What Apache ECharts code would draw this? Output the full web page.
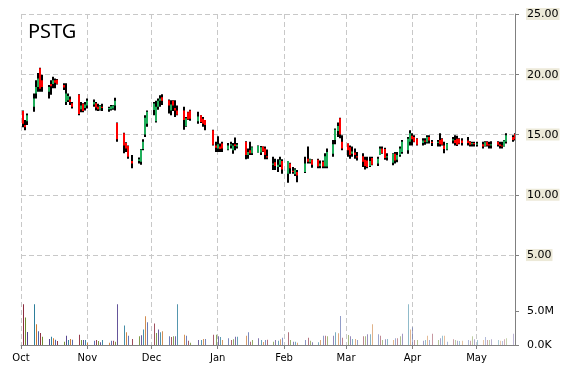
<!DOCTYPE html>
<html><head><meta charset="utf-8">
<script src="https://cdn.jsdelivr.net/npm/echarts@6/dist/echarts.min.js"></script>
<style>html,body{margin:0;padding:0;background:#fff}#c{width:570px;height:370px}</style>
</head><body><div id="c"></div>
<script>
const ticker = 'PSTG';
const monthLabels = ['Oct','Nov','Dec','Jan','Feb','Mar','Apr','May'];
const monthStarts = ['2019-10-01','2019-11-01','2019-12-01','2020-01-01','2020-02-01','2020-03-01','2020-04-01','2020-05-01'];
const priceTicks = [5, 10, 15, 20, 25];
const volumeTicks = [0, 5];   // millions

const dates = [
 '2019-10-02','2019-10-03','2019-10-04',
 '2019-10-07','2019-10-08','2019-10-09','2019-10-10','2019-10-11',
 '2019-10-14','2019-10-15','2019-10-16','2019-10-17','2019-10-18',
 '2019-10-21','2019-10-22','2019-10-23','2019-10-24','2019-10-25',
 '2019-10-28','2019-10-29','2019-10-30','2019-10-31','2019-11-01',
 '2019-11-04','2019-11-05','2019-11-06','2019-11-07','2019-11-08',
 '2019-11-11','2019-11-12','2019-11-13','2019-11-14','2019-11-15',
 '2019-11-18','2019-11-19','2019-11-20','2019-11-22',
 '2019-11-25','2019-11-26','2019-11-27','2019-11-28','2019-11-29',
 '2019-12-02','2019-12-03','2019-12-04','2019-12-05','2019-12-06',
 '2019-12-09','2019-12-10','2019-12-11','2019-12-12','2019-12-13',
 '2019-12-16','2019-12-17','2019-12-18','2019-12-19',
 '2019-12-23','2019-12-24','2019-12-25','2019-12-26',
 '2019-12-30','2019-12-31','2020-01-01','2020-01-02','2020-01-03',
 '2020-01-06','2020-01-07','2020-01-08','2020-01-09','2020-01-10',
 '2020-01-14','2020-01-15','2020-01-16','2020-01-17',
 '2020-01-20','2020-01-21','2020-01-22','2020-01-23','2020-01-24',
 '2020-01-27','2020-01-28','2020-01-29','2020-01-30','2020-01-31',
 '2020-02-03','2020-02-04','2020-02-05','2020-02-06','2020-02-07',
 '2020-02-11','2020-02-12','2020-02-13','2020-02-14',
 '2020-02-17','2020-02-18','2020-02-19','2020-02-20','2020-02-21',
 '2020-02-24','2020-02-25','2020-02-26','2020-02-27','2020-02-28',
 '2020-03-02','2020-03-03','2020-03-04','2020-03-05','2020-03-06',
 '2020-03-09','2020-03-10','2020-03-11','2020-03-12','2020-03-13',
 '2020-03-16','2020-03-17','2020-03-18','2020-03-19','2020-03-20',
 '2020-03-23','2020-03-24','2020-03-25','2020-03-26','2020-03-27',
 '2020-03-30','2020-03-31','2020-04-01','2020-04-02','2020-04-03',
 '2020-04-06','2020-04-07','2020-04-08','2020-04-09','2020-04-10',
 '2020-04-13','2020-04-14','2020-04-15','2020-04-16','2020-04-17',
 '2020-04-20','2020-04-21','2020-04-22','2020-04-23','2020-04-24',
 '2020-04-27','2020-04-28','2020-04-29','2020-04-30','2020-05-01',
 '2020-05-04','2020-05-05','2020-05-06','2020-05-07','2020-05-08',
 '2020-05-11','2020-05-12','2020-05-13','2020-05-14','2020-05-15',
 '2020-05-18','2020-05-19'
];

const open = [
 16.95,15.8,16.1,
 17.3,18.4,18.95,20.5,19.5,
 18.55,19.2,19.2,19.5,19.55,
 19.1,17.7,17.85,17.9,17.6,
 18.3,17.1,17.55,17.2,17.4,
 17.5,17.6,17.3,17.05,17.3,
 17.1,17.1,17.15,17.4,15.95,
 15.1,14.3,14.05,12.8,
 12.8,12.75,13.8,15.0,15.9,
 17.03,16.1,17.3,17.8,18.1,
 17.85,17.0,17.8,17.2,17.0,
 17.0,15.7,16.85,17.0,
 16.1,16.6,16.3,16.2,
 15.35,14.1,13.85,14.0,14.25,
 13.75,14.1,13.7,14.2,14.0,
 14.4,13.3,13.7,13.45,
 13.5,13.5,14.0,13.85,13.2,
 12.5,12.7,12.3,12.5,12.8,
 11.75,12.6,12.0,11.7,11.9,
 11.9,13.0,12.7,12.9,
 12.9,12.4,12.75,12.35,12.35,
 13.4,14.55,15.3,16.35,14.4,
 14.25,13.95,13.4,13.5,13.2,
 13.2,12.9,12.85,12.4,13.05,
 12.6,13.3,13.85,13.8,13.1,
 12.65,13.4,12.9,13.3,13.55,
 13.7,14.4,14.9,14.8,14.65,
 14.3,14.5,14.35,14.8,14.4,
 14.3,14.55,14.65,14.1,13.75,
 14.5,14.55,14.65,14.65,14.5,
 14.5,14.4,14.2,14.3,14.15,
 14.2,14.05,14.4,14.2,14.1,
 14.4,14.2,14.1,14.0,14.4,
 14.8,15.05
];
const high = [
 17.0,16.2,16.75,
 18.4,19.5,20.1,20.55,19.95,
 19.1,19.5,19.8,19.65,19.6,
 19.25,19.25,18.4,18.15,17.7,
 18.35,17.7,17.6,17.7,18.0,
 17.9,17.7,17.55,17.45,17.55,
 17.3,17.45,17.45,18.05,16.0,
 15.15,14.35,14.1,13.3,
 13.1,13.8,14.6,16.6,17.0,
 17.7,17.8,18.0,18.25,18.35,
 17.9,17.85,17.85,17.85,17.4,
 17.3,16.45,16.9,17.05,
 16.9,16.6,16.45,16.2,
 15.4,14.4,14.85,14.25,14.4,
 14.3,14.4,14.3,14.75,14.3,
 14.45,13.85,14.4,14.0,
 14.1,14.05,14.0,14.0,13.75,
 13.15,13.0,12.95,13.15,12.95,
 12.8,12.65,12.3,12.2,12.05,
 13.15,14.0,13.0,12.95,
 13.0,12.85,12.85,13.45,13.85,
 14.55,15.5,16.0,16.4,14.95,
 14.25,14.1,14.0,13.85,13.55,
 13.45,13.15,13.15,13.15,13.15,
 13.15,14.0,14.0,13.9,13.45,
 13.45,13.55,13.55,14.0,14.55,
 14.8,15.35,15.1,14.95,14.7,
 14.7,14.7,14.95,14.95,14.55,
 14.55,15.1,14.7,14.4,14.3,
 14.8,14.95,14.9,14.7,14.7,
 14.8,14.45,14.4,14.4,14.4,
 14.4,14.45,14.45,14.4,14.45,
 14.45,14.4,14.4,14.55,15.1,
 14.95,15.1
];
const low = [
 15.6,15.35,15.8,
 16.9,18.0,18.55,18.55,18.55,
 18.0,18.3,18.85,18.85,19.15,
 18.7,17.45,17.7,17.45,17.15,
 16.6,16.85,16.85,17.0,17.15,
 17.3,17.0,16.95,17.0,16.95,
 16.9,17.0,17.05,17.0,14.4,
 13.45,13.55,13.0,12.2,
 12.6,12.5,13.7,14.8,15.65,
 16.6,16.0,17.05,17.3,17.45,
 16.75,16.6,16.95,16.45,16.6,
 15.4,15.65,16.2,16.15,
 15.9,15.95,15.65,15.35,
 14.1,13.55,13.55,13.55,13.55,
 13.7,13.85,13.4,13.7,13.85,
 12.95,13.0,13.3,13.3,
 13.5,13.3,13.55,12.95,12.95,
 12.05,12.05,11.9,12.3,11.75,
 11.0,11.75,11.75,11.55,11.05,
 11.8,12.6,12.6,12.25,
 12.2,12.2,12.2,12.2,12.2,
 13.15,14.2,14.8,14.7,13.7,
 13.15,13.0,13.15,13.0,12.85,
 12.3,12.1,12.2,12.3,12.45,
 12.4,13.3,13.4,12.9,12.85,
 12.45,12.6,12.7,13.15,13.4,
 13.4,14.1,14.1,14.35,14.1,
 14.1,14.15,14.25,14.25,14.05,
 14.0,14.0,14.1,13.45,13.7,
 14.25,14.1,14.05,14.2,14.1,
 14.1,14.0,14.0,14.0,14.0,
 13.85,14.0,14.0,13.85,13.85,
 14.0,13.85,13.85,14.0,14.25,
 14.4,14.5
];
const close = [
 15.9,15.6,16.6,
 18.0,18.95,19.65,18.8,18.95,
 18.95,19.0,19.5,19.3,19.2,
 18.9,18.4,18.2,17.7,17.3,
 16.7,17.4,16.95,17.5,17.8,
 17.7,17.25,17.1,17.4,17.2,
 17.2,17.35,17.4,17.8,14.6,
 14.1,13.85,13.15,12.6,
 12.95,13.75,14.4,16.4,16.9,
 17.58,17.3,17.8,18.0,17.8,
 17.4,17.5,17.4,17.0,16.65,
 16.2,16.35,16.25,16.3,
 16.5,16.05,15.9,15.8,
 14.15,13.9,14.2,13.8,13.85,
 14.1,14.2,14.1,14.05,14.15,
 13.3,13.55,13.45,13.95,
 14.05,13.95,13.6,13.3,13.1,
 12.6,12.4,12.5,12.9,12.1,
 12.8,12.2,11.9,12.1,11.6,
 12.6,12.75,12.95,12.5,
 12.35,12.6,12.35,13.2,13.55,
 14.2,15.4,15.7,15.0,13.85,
 13.7,13.3,13.6,13.3,13.1,
 12.75,12.4,12.3,12.8,12.5,
 13.0,13.85,13.45,13.05,13.2,
 13.4,12.85,13.3,13.85,14.4,
 14.65,15.1,14.6,14.4,14.15,
 14.5,14.4,14.8,14.5,14.3,
 14.4,14.2,14.15,13.8,14.25,
 14.6,14.3,14.15,14.25,14.3,
 14.3,14.15,14.3,14.2,14.25,
 14.0,14.35,14.1,14.1,14.2,
 14.15,14.05,14.0,14.5,14.95,
 14.55,14.6
];
// volume in millions of shares
const volume = [
 6.1,4.1,1.95,
 6.1,3.1,2.05,1.8,1.25,
 0.9,1.25,1.0,0.8,0.6,
 0.5,1.4,0.75,0.9,0.8,
 1.55,0.75,0.75,0.75,0.35,
 0.65,0.75,0.6,0.4,0.75,
 0.35,0.65,0.65,0.5,6.1,
 2.9,1.9,1.4,0.9,
 1.3,1.45,2.3,4.3,3.4,
 3.2,1.8,2.3,1.9,2.05,
 1.3,1.2,1.3,1.3,6.1,
 1.55,1.4,0.65,0.35,
 0.75,0.75,0.9,0.9,
 1.55,1.55,1.3,1.2,0.75,
 1.0,0.75,0.85,1.25,1.25,
 1.4,1.9,0.5,0.75,
 1.0,0.75,0.45,0.75,0.8,
 0.5,0.75,0.65,0.85,1.1,
 1.9,0.75,0.5,0.5,0.35,
 0.75,1.1,0.65,0.4,
 0.4,0.75,1.4,1.4,1.3,
 1.4,1.9,1.75,4.35,1.1,
 1.5,1.3,0.9,0.9,0.75,
 1.3,1.3,1.6,1.6,3.1,
 1.6,1.4,0.75,0.85,0.9,
 0.75,1.0,1.0,1.3,1.7,
 6.1,2.3,2.65,0.75,0.75,
 0.65,0.75,1.4,0.75,1.7,
 0.75,1.0,1.4,1.4,0.5,
 0.85,0.75,0.65,0.6,0.65,
 0.75,0.65,1.3,0.85,0.75,
 0.75,1.2,0.75,0.75,0.85,
 0.75,0.65,0.6,0.85,1.0,
 1.7,1.2
];

const ts = (s) => new Date(s + 'T00:00:00').getTime();
const monthTs = monthStarts.map(ts);
const xMin = ts('2019-10-01');
const xMax = ts('2020-05-19');

const volColors = ['#8c2d3f','#6b8a2b','#4f3d8c','#2b7c9a','#c9782f','#4b5ea6'];
const upColor = '#1fae5a', downColor = '#ff0000', wickColor = '#000000';
const n = dates.length;
const volData = dates.map((d, i) => [ts(d), volume[i]]);
const ohlcData = dates.map((d, i) => [ts(d), open[i], high[i], low[i], close[i]]);

function renderCandle(params, api) {
  const x = api.value(0);
  const pO = api.coord([x, api.value(1)]);
  const pH = api.coord([x, api.value(2)]);
  const pL = api.coord([x, api.value(3)]);
  const pC = api.coord([x, api.value(4)]);
  const left = Math.round(pH[0]) - 1;
  const top = Math.min(pO[1], pC[1]);
  const h = Math.max(Math.abs(pO[1] - pC[1]), 1);
  return {
    type: 'group',
    children: [
      { type: 'rect', shape: { x: left, y: pH[1], width: 2, height: pL[1] - pH[1] }, style: { fill: wickColor } },
      { type: 'rect', shape: { x: left, y: top, width: 2, height: h },
        style: { fill: api.value(4) >= api.value(1) ? upColor : downColor } }
    ]
  };
}
function renderVolume(params, api) {
  const x = api.value(0);
  const pT = api.coord([x, api.value(1)]);
  const pB = api.coord([x, 0]);
  const i = params.dataIndex;
  return {
    type: 'rect',
    shape: { x: Math.round(pT[0]), y: pT[1], width: 1, height: pB[1] - pT[1] },
    style: { fill: volColors[i % volColors.length], opacity: 1 - 0.62 * i / (n - 1) }
  };
}

const gridDash = [5, 3];
const axisGray = '#808080';
const chart = echarts.init(document.getElementById('c'), null, { renderer: 'canvas' });
chart.setOption({
  animation: false,
  backgroundColor: '#ffffff',
  title: {
    text: ticker, left: 23, top: 17,
    textStyle: { fontFamily: 'Noto Sans', fontSize: 20, fontWeight: 'normal', color: '#000' }
  },
  grid: { left: 21, right: 55, top: 14, bottom: 25 },
  xAxis: {
    type: 'value',
    min: xMin, max: xMax,
    axisLine: { show: true, onZero: false, lineStyle: { color: axisGray, width: 1 } },
    axisTick: { show: true, length: 4, lineStyle: { color: axisGray }, customValues: monthTs },
    axisLabel: {
      customValues: monthTs,
      formatter: (v) => monthLabels[monthTs.indexOf(v)] || '',
      fontFamily: 'DejaVu Sans', fontSize: 10, color: '#000', margin: 8,
      showMinLabel: true, showMaxLabel: true
    },
    splitLine: { show: true, lineStyle: { color: '#c8c8c8', type: gridDash, width: 1 } }
  },
  yAxis: [
    {
      type: 'value', position: 'right', min: -2.46, max: 25,
      axisLine: { show: true, onZero: false, lineStyle: { color: axisGray, width: 1 } },
      axisTick: { show: true, length: 4, lineStyle: { color: axisGray }, customValues: priceTicks },
      axisLabel: {
        customValues: priceTicks,
        formatter: (v) => '{p|' + Number(v).toFixed(2) + '}',
        align: 'left', margin: 11,
        rich: {
          p: { fontFamily: 'DejaVu Sans', fontSize: 11, color: '#000', align: 'left',
               backgroundColor: '#ECE9D8', padding: [1, 1, 0, 1] }
        }
      },
      splitLine: { show: true, lineStyle: { color: '#c8c8c8', type: gridDash, width: 1 } }
    },
    {
      type: 'value', position: 'right', min: 0, max: 49.5,
      axisLine: { show: false },
      axisTick: { show: true, length: 4, lineStyle: { color: axisGray }, customValues: volumeTicks },
      axisLabel: {
        customValues: volumeTicks,
        formatter: (v) => Number(v) === 0 ? '0.0K' : Number(v).toFixed(1) + 'M',
        fontFamily: 'DejaVu Sans', fontSize: 11, color: '#000', align: 'left', margin: 12
      },
      splitLine: { show: false }
    }
  ],
  series: [
    {
      type: 'custom', xAxisIndex: 0, yAxisIndex: 1,
      encode: { x: 0, y: 1 },
      renderItem: renderVolume, data: volData, z: 2, clip: true
    },
    {
      type: 'custom', xAxisIndex: 0, yAxisIndex: 0,
      encode: { x: 0, y: [1, 2, 3, 4] },
      renderItem: renderCandle, data: ohlcData, z: 3, clip: true
    }
  ]
});
</script>
</body></html>
